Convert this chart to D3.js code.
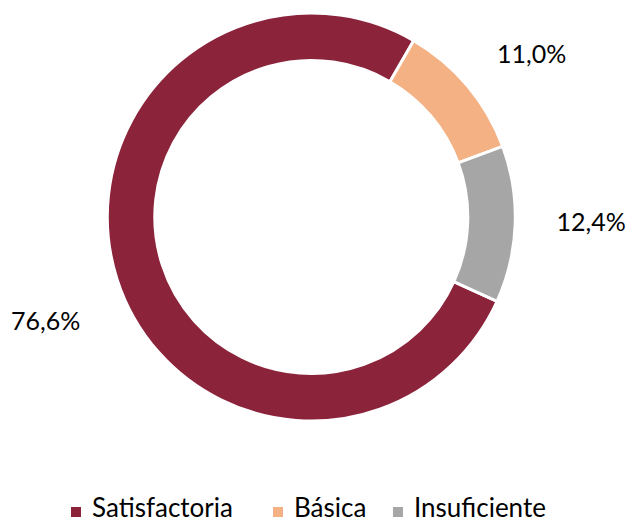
<!DOCTYPE html>
<html>
<head>
<meta charset="utf-8">
<script src="https://cdn.jsdelivr.net/npm/d3@7"></script>
<style>
  body { margin: 0; background: #fff; }
  text { font-family: Lato, "Open Sans", sans-serif; fill: #000; }
</style>
</head>
<body>
<div id="chart"></div>
<script>
const categories = ['Satisfactoria', 'Básica', 'Insuficiente'];
const values = [76.6, 11.0, 12.4];
const valueLabels = ['76,6%', '11,0%', '12,4%'];
const colors = ['#8B233B', '#F4B183', '#A6A6A6'];

const width = 629, height = 522;
const center = {x: 311.3, y: 217};
const outerR = 204, innerR = 156.5;
const startDeg = 114.4; // first slice starts here (clockwise from top)
const labelR = 280;
const labelNudge = [[1, 19], [6, 17], [0, -5]]; // empirical shifts, excel-like placement

const svg = d3.select('#chart').append('svg')
  .attr('width', width)
  .attr('height', height);

const pie = d3.pie()
  .sort(null)
  .value(d => d)
  .startAngle(startDeg * Math.PI / 180)
  .endAngle(startDeg * Math.PI / 180 + 2 * Math.PI);

const arc = d3.arc().innerRadius(innerR).outerRadius(outerR);
const labelArc = d3.arc().innerRadius(labelR).outerRadius(labelR);

const arcs = pie(values);

const g = svg.append('g').attr('transform', `translate(${center.x},${center.y})`);

g.selectAll('path')
  .data(arcs)
  .join('path')
  .attr('d', arc)
  .attr('fill', (d, i) => colors[i])
  .attr('stroke', '#fff')
  .attr('stroke-width', 3);

g.selectAll('text.lbl')
  .data(arcs)
  .join('text')
  .attr('class', 'lbl')
  .attr('x', (d, i) => labelArc.centroid(d)[0] + labelNudge[i][0])
  .attr('y', (d, i) => labelArc.centroid(d)[1] + labelNudge[i][1])
  .attr('text-anchor', 'middle')
  .attr('dy', '0.36em')
  .style('font-size', '25px')
  .text((d, i) => valueLabels[i]);

// legenda
const legend = svg.append('g').attr('transform', 'translate(0, 512)');
const legX = [71, 273, 393];
categories.forEach((c, i) => {
  legend.append('rect')
    .attr('x', legX[i]).attr('y', -5)
    .attr('width', 10).attr('height', 10)
    .attr('fill', colors[i]);
  legend.append('text')
    .attr('x', legX[i] + 21)
    .attr('y', 5)
    .style('font-size', '26px')
    .text(c);
});
</script>
</body>
</html>
